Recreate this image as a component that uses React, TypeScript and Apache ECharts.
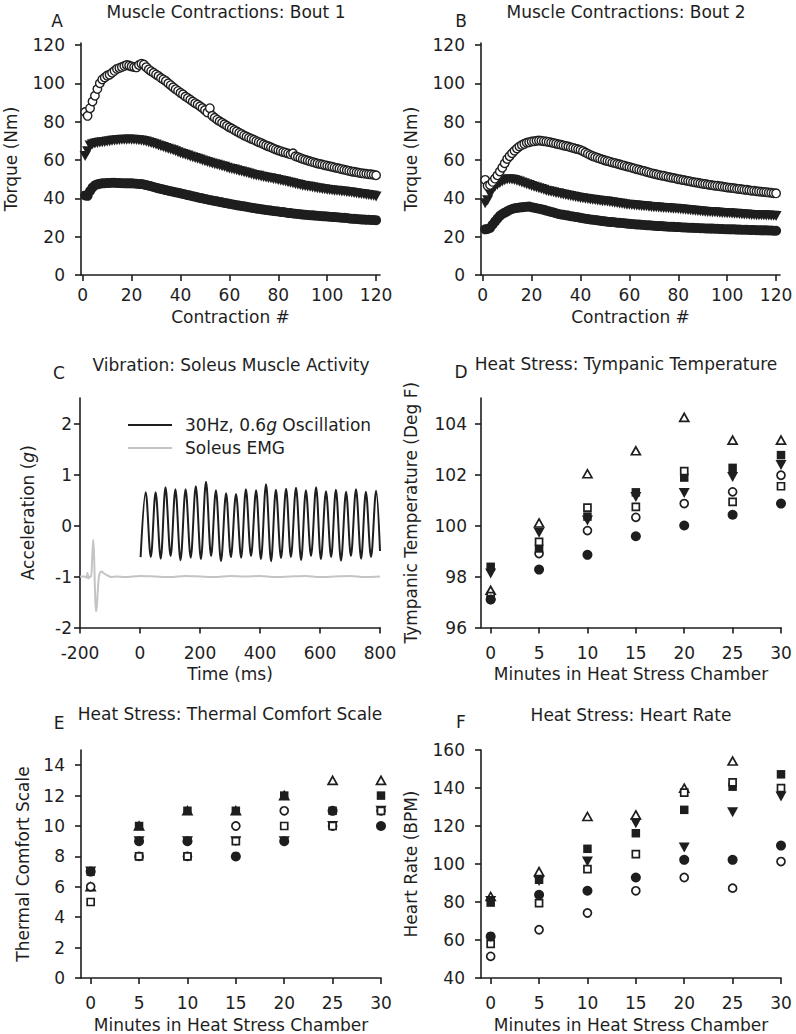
import React, { useEffect, useRef } from "react";
import * as echarts from "echarts";

const FONT = "DejaVu Sans";
const INK = "#1e1e1e";
const FS = 17;

// ---------- Panel A / B : contraction number ----------
const contractions = Array.from({ length: 120 }, (_, i) => i + 1);

const bout1Open = [
  85, 83, 87, 90.5, 93.5, 97, 100, 102, 103, 104,
  104.5, 105.5, 106.5, 107.5, 108, 108.5, 109, 109.5, 109.2, 108.8,
  108.5, 108.3, 109.5, 110.2, 109.8, 108.4, 107.2, 106.3, 105.5, 104.6,
  103.8, 102.7, 102, 101.2, 100, 99, 97.9, 96.9, 96, 95,
  94.2, 93.1, 92.3, 91.4, 90.5, 89.6, 88.9, 88, 87.1, 86,
  84.8, 87, 83, 82, 81, 80.2, 79.4, 78.6, 77.8, 77,
  76.4, 75.6, 74.9, 74.2, 73.5, 72.8, 72.2, 71.6, 71, 70.5,
  69.9, 69.3, 68.8, 68.2, 67.6, 67.1, 66.6, 66, 65.5, 65,
  64.6, 64.1, 63.8, 63.4, 63, 63.5, 61.9, 61.5, 61, 60.5,
  60.1, 59.7, 59.3, 58.9, 58.5, 58.2, 57.9, 57.6, 57.3, 57,
  56.7, 56.4, 56.1, 55.8, 55.5, 55.2, 54.9, 54.6, 54.3, 54,
  53.8, 53.6, 53.3, 53.1, 52.9, 52.8, 52.6, 52.5, 52.3, 52,
];

const bout1Tri = [
  62, 64.5, 67.5, 68.2, 68.6, 68.9, 69.1, 69.3, 69.4, 69.6,
  69.8, 70, 70.1, 70.3, 70.4, 70.5, 70.6, 70.6, 70.7, 70.6,
  70.5, 70.4, 70.3, 70.1, 69.9, 69.6, 69.3, 68.9, 68.5, 68,
  67.6, 67.2, 66.8, 66.3, 65.9, 65.4, 65, 64.5, 64, 63.5,
  63.1, 62.7, 62.3, 61.8, 61.4, 61, 60.6, 60.2, 59.7, 59.3,
  58.9, 58.5, 58.2, 57.8, 57.5, 57.1, 56.7, 56.4, 56, 55.6,
  55.3, 55, 54.6, 54.3, 54, 53.6, 53.3, 53, 52.6, 52.2,
  51.9, 51.7, 51.4, 51.1, 50.9, 50.6, 50.4, 50.1, 49.9, 49.6,
  49.3, 49, 48.7, 48.4, 48.1, 47.8, 47.5, 47.2, 46.9, 46.6,
  46.4, 46.2, 46, 45.8, 45.5, 45.3, 45.1, 44.9, 44.7, 44.5,
  44.3, 44.2, 44, 43.9, 43.8, 43.6, 43.5, 43.3, 43.2, 43,
  42.8, 42.6, 42.4, 42.3, 42.1, 41.9, 41.7, 41.5, 41.3, 41,
];

const bout1Dot = [
  41.5, 41.3, 43.8, 45.6, 46.8, 47.3, 47.6, 47.8, 47.9, 48,
  48, 48.1, 48.1, 48, 48, 47.9, 47.9, 47.8, 47.8, 47.8,
  47.7, 47.6, 47.5, 47.4, 47.2, 46.9, 46.6, 46.3, 45.9, 45.5,
  45.2, 44.9, 44.6, 44.3, 44, 43.7, 43.4, 43.1, 42.9, 42.6,
  42.3, 42, 41.7, 41.4, 41.1, 40.8, 40.5, 40.2, 40, 39.7,
  39.4, 39.1, 38.9, 38.6, 38.4, 38.1, 37.9, 37.6, 37.4, 37.1,
  36.9, 36.7, 36.4, 36.2, 36, 35.8, 35.6, 35.4, 35.1, 34.9,
  34.7, 34.5, 34.3, 34.1, 33.9, 33.8, 33.6, 33.4, 33.3, 33.1,
  32.9, 32.8, 32.6, 32.4, 32.3, 32.1, 32, 31.8, 31.7, 31.5,
  31.4, 31.3, 31.2, 31.1, 31, 30.9, 30.8, 30.7, 30.6, 30.5,
  30.4, 30.3, 30.2, 30.1, 30, 29.9, 29.8, 29.7, 29.5, 29.4,
  29.3, 29.2, 29.1, 29, 28.9, 28.8, 28.8, 28.7, 28.7, 28.6,
];

const bout2Open = [
  49.6, 46.5, 47, 48.6, 50.3, 52, 54, 56, 58.3, 60.5,
  62, 63.5, 64.8, 66, 67, 67.8, 68.4, 69, 69.3, 69.6,
  69.8, 70, 70.1, 70, 69.8, 69.6, 69.4, 69.1, 68.8, 68.5,
  68.2, 67.9, 67.6, 67.3, 67, 66.6, 66.3, 65.9, 65.6, 65.2,
  64.6, 63.9, 63.2, 62.6, 62, 61.5, 61.1, 60.6, 60.2, 59.8,
  59.4, 59.1, 58.7, 58.4, 58, 57.7, 57.3, 57, 56.6, 56.3,
  55.9, 55.6, 55.2, 54.9, 54.5, 54.2, 53.8, 53.5, 53.1, 52.8,
  52.5, 52.2, 51.9, 51.7, 51.4, 51.1, 50.8, 50.6, 50.3, 50,
  49.8, 49.5, 49.3, 49, 48.8, 48.5, 48.3, 48.1, 47.8, 47.6,
  47.4, 47.2, 47, 46.8, 46.6, 46.5, 46.3, 46.1, 45.9, 45.7,
  45.5, 45.4, 45.2, 45, 44.9, 44.7, 44.5, 44.4, 44.2, 44,
  43.9, 43.7, 43.6, 43.4, 43.3, 43.2, 43, 42.9, 42.7, 42.6,
];

const bout2Tri = [
  37.4, 39, 42.3, 44.3, 46, 47.1, 48, 48.8, 49.4, 49.8,
  49.9, 49.8, 49.6, 49.2, 48.7, 48.2, 47.8, 47.3, 46.9, 46.4,
  46, 45.6, 45.2, 44.8, 44.4, 44, 43.7, 43.4, 43.1, 42.8,
  42.6, 42.3, 42, 41.7, 41.5, 41.2, 40.9, 40.7, 40.4, 40.2,
  40, 39.8, 39.6, 39.4, 39.2, 39.1, 38.9, 38.7, 38.5, 38.4,
  38.3, 38.1, 37.9, 37.7, 37.5, 37.3, 37.1, 36.9, 36.7, 36.6,
  36.5, 36.4, 36.3, 36.1, 36, 35.9, 35.8, 35.6, 35.5, 35.4,
  35.3, 35.2, 35.1, 35, 34.9, 34.8, 34.7, 34.6, 34.5, 34.4,
  34.3, 34.2, 34, 33.9, 33.8, 33.6, 33.5, 33.4, 33.2, 33.1,
  33, 32.9, 32.8, 32.7, 32.7, 32.6, 32.5, 32.4, 32.3, 32.2,
  32.2, 32.1, 32, 31.9, 31.8, 31.7, 31.6, 31.5, 31.4, 31.3,
  31.3, 31.2, 31.2, 31.1, 31.1, 31, 31, 30.9, 30.9, 30.8,
];

const bout2Dot = [
  23.8, 24, 24.5, 26.2, 27.8, 29.4, 30.8, 31.8, 32.5, 33.2,
  33.9, 34.4, 34.8, 35, 35.2, 35.3, 35.5, 35.6, 35.7, 35.4,
  35.1, 34.8, 34.6, 34.3, 34, 33.6, 33.3, 32.9, 32.6, 32.2,
  31.8, 31.6, 31.4, 31.2, 31, 30.7, 30.5, 30.3, 30.1, 29.8,
  29.6, 29.4, 29.2, 29, 28.8, 28.7, 28.5, 28.3, 28.1, 28,
  27.8, 27.7, 27.6, 27.5, 27.3, 27.2, 27.1, 27, 26.8, 26.7,
  26.6, 26.5, 26.4, 26.3, 26.2, 26.1, 26, 25.9, 25.8, 25.7,
  25.6, 25.5, 25.5, 25.4, 25.3, 25.2, 25.2, 25.1, 25, 25,
  24.9, 24.8, 24.8, 24.7, 24.7, 24.6, 24.5, 24.5, 24.4, 24.4,
  24.3, 24.3, 24.2, 24.2, 24.1, 24.1, 24, 24, 23.9, 23.9,
  23.8, 23.8, 23.8, 23.7, 23.7, 23.6, 23.6, 23.6, 23.5, 23.5,
  23.5, 23.4, 23.4, 23.3, 23.3, 23.3, 23.2, 23.2, 23.1, 23.1,
];

// ---------- Panel C : vibration ----------
const OSC_NAME = "30Hz, 0.6g Oscillation";
const EMG_NAME = "Soleus EMG";

const oscTime = [
  2, 19, 36, 52, 69, 85, 102, 118, 135, 152, 169, 186, 203, 220, 237, 253, 270,
  287, 303, 320, 337, 353, 370, 387, 403, 420, 437, 453, 470, 487, 503, 520, 537,
  553, 570, 587, 603, 620, 637, 653, 670, 687, 703, 720, 737, 753, 770, 787, 800,
];
const oscValue = [
  -0.62, 0.65, -0.62, 0.65, -0.65, 0.75, -0.6, 0.71, -0.68, 0.71, -0.63, 0.77,
  -0.66, 0.86, -0.6, 0.69, -0.7, 0.63, -0.62, 0.62, -0.63, 0.71, -0.6, 0.69,
  -0.66, 0.81, -0.7, 0.7, -0.64, 0.72, -0.62, 0.74, -0.68, 0.69, -0.6, 0.75,
  -0.66, 0.67, -0.62, 0.7, -0.69, 0.66, -0.6, 0.71, -0.65, 0.66, -0.62, 0.68, -0.5,
];

const emgTime = [
  -200, -185, -178, -175, -172, -168, -163, -160, -156, -153, -150, -147, -144,
  -141, -137, -133, -128, -122, -115, -105, -95, -80, -50, 0, 50, 100, 150, 200,
  250, 300, 350, 400, 450, 500, 550, 600, 650, 700, 750, 800,
];
const emgValue = [
  -1, -1, -1.02, -0.93, -1.04, -1, -1.01, -0.7, -0.28, -0.6, -1.3, -1.68, -1.6,
  -1.3, -1.0, -0.92, -0.9, -0.93, -0.96, -0.99, -1.01, -1.0, -1.01, -0.99, -1.0,
  -1.01, -0.99, -1.0, -1.01, -0.99, -1.0, -0.99, -1.01, -1.0, -0.99, -1.01, -1.0,
  -0.99, -1.01, -1.0,
];

// ---------- Panels D / E / F : heat stress, six subjects ----------
const minutes = [0, 5, 10, 15, 20, 25, 30];

const tempDot = [97.1, 98.27, 98.85, 99.58, 100.0, 100.42, 100.86];
const tempCircle = [97.1, 98.9, 99.8, 100.32, 100.86, 101.32, 101.97];
const tempDown = [98.12, 99.72, 100.2, 101.12, 101.27, 101.9, 102.37];
const tempUp = [97.46, 100.1, 102.03, 102.93, 104.24, 103.35, 103.35];
const tempSquare = [98.38, 99.1, 100.35, 101.3, 101.88, 102.26, 102.76];
const tempBox = [97.23, 99.36, 100.7, 100.73, 102.13, 100.93, 101.54];

const comfortDot = [7, 9, 9, 8, 9, 11, 10];
const comfortCircle = [6, 8, 8, 10, 11, 10, 11];
const comfortDown = [7, 9, 9, 9, 9, 10, 11];
const comfortUp = [6, 10, 11, 11, 12, 13, 13];
const comfortSquare = [7, 10, 11, 11, 12, 11, 12];
const comfortBox = [5, 8, 8, 9, 10, 10, 11];

const hrDot = [61.9, 83.8, 85.9, 92.9, 102.2, 102.2, 109.7];
const hrCircle = [51.4, 65.4, 74.2, 85.9, 92.9, 87.3, 101.3];
const hrDown = [80.5, 91, 101.3, 121.5, 108.7, 127.3, 135.5];
const hrUp = [82.9, 96, 125, 125.8, 139.9, 154.2, null];
const hrSquare = [79.7, 91.7, 108, 116.2, 128.5, 140.7, 147.2];
const hrBox = [58, 79.4, 97.3, 105.2, 137.6, 143, 139.9];

// tick values
const torqueTicks = [0, 20, 40, 60, 80, 100, 120];
const contractionTicks = [0, 20, 40, 60, 80, 100, 120];
const accelTicks = [-2, -1, 0, 1, 2];
const timeTicks = [-200, 0, 200, 400, 600, 800];
const minuteTicks = [0, 5, 10, 15, 20, 25, 30];
const tempTicks = [96, 98, 100, 102, 104];
const comfortTicks = [0, 2, 4, 6, 8, 10, 12, 14];
const hrTicks = [40, 60, 80, 100, 120, 140, 160];

// ---------- helpers ----------
const filled = { color: INK, opacity: 1 };
const hollow = { color: "#fff", borderColor: INK, borderWidth: 1.7, opacity: 1 };

const markers: Record<string, any> = {
  dot: { symbol: "circle", symbolSize: 10, itemStyle: filled },
  circle: { symbol: "circle", symbolSize: 8, itemStyle: hollow },
  down: { symbol: "triangle", symbolRotate: 180, symbolSize: [11, 10], itemStyle: filled },
  up: { symbol: "triangle", symbolSize: [9, 8], itemStyle: hollow },
  square: { symbol: "rect", symbolSize: 8.5, itemStyle: filled },
  box: { symbol: "rect", symbolSize: 7, itemStyle: hollow },
};

function scatter(idx: number, xs: number[], ys: (number | null)[], kind: string, extra: any = {}) {
  const data = xs.map((x, i) => [x, ys[i]]).filter((p) => p[1] !== null);
  return {
    type: "scatter",
    xAxisIndex: idx,
    yAxisIndex: idx,
    data,
    silent: true,
    ...markers[kind],
    ...extra,
  };
}

function axis(
  idx: number,
  min: number,
  max: number,
  ticks: number[],
  margin: number,
  name: string,
  nameGap: number,
  vertical: boolean,
  rich?: any
) {
  return {
    type: "value",
    gridIndex: idx,
    min,
    max,
    name,
    nameLocation: "middle",
    nameGap,
    nameRotate: vertical ? 90 : 0,
    nameTextStyle: { fontSize: FS, fontFamily: FONT, color: INK, rich },
    axisLine: { show: true, onZero: false, lineStyle: { color: INK, width: 1.6 } },
    axisTick: { show: true, length: 6, customValues: ticks, lineStyle: { color: INK, width: 1.6 } },
    axisLabel: { fontSize: FS, fontFamily: FONT, color: INK, margin, customValues: ticks },
    splitLine: { show: false },
  };
}

function label(text: string, x: number, y: number) {
  return {
    type: "text",
    x,
    y,
    silent: true,
    style: { text, fontSize: FS, fontFamily: FONT, fill: INK, align: "center", verticalAlign: "middle" },
  };
}

const italic = { i: { fontStyle: "italic", fontSize: FS, fontFamily: FONT, color: INK } };

export default function App() {
  const ref = useRef<HTMLDivElement>(null);

  useEffect(() => {
    if (!ref.current) return;
    const chart = echarts.init(ref.current, undefined, { renderer: "svg" });

    const option: any = {
      animation: false,
      backgroundColor: "#fff",
      textStyle: { fontFamily: FONT },
      grid: [
        { left: 81, top: 43, width: 299, height: 232 },
        { left: 481, top: 43, width: 299, height: 232 },
        { left: 80, top: 398, width: 300, height: 229.5 },
        { left: 481, top: 398, width: 300, height: 229.5 },
        { left: 81, top: 750, width: 300, height: 229.5 },
        { left: 481, top: 750, width: 300, height: 228.5 },
      ],
      xAxis: [
        axis(0, -0.7, 121.6, contractionTicks, 11, "Contraction #", 33, false),
        axis(1, -0.7, 121.6, contractionTicks, 11, "Contraction #", 33, false),
        axis(2, -200, 800, timeTicks, 17, "Time (ms)", 38, false),
        axis(3, -1, 30, minuteTicks, 17, "Minutes in Heat Stress Chamber", 38, false),
        axis(4, -1, 30, minuteTicks, 16, "Minutes in Heat Stress Chamber", 38, false),
        axis(5, -1, 30, minuteTicks, 16, "Minutes in Heat Stress Chamber", 38, false),
      ],
      yAxis: [
        axis(0, 0, 121, torqueTicks, 16, "Torque (Nm)", 62, true),
        axis(1, 0, 121, torqueTicks, 16, "Torque (Nm)", 62, true),
        axis(2, -2, 2.5, accelTicks, 8, "Acceleration ({i|g})", 44, true, italic),
        axis(3, 96, 105, tempTicks, 14, "Tympanic Temperature (Deg F)", 62, true),
        axis(4, 0, 15, comfortTicks, 16, "Thermal Comfort Scale", 50, true),
        axis(5, 40, 160, hrTicks, 16, "Heart Rate (BPM)", 62, true),
      ],
      legend: {
        show: true,
        orient: "vertical",
        left: 123,
        top: 410,
        icon: "rect",
        itemWidth: 44,
        itemHeight: 2,
        itemGap: 3,
        selectedMode: false,
        data: [OSC_NAME, EMG_NAME],
        formatter: (n: string) => (n === OSC_NAME ? "30Hz, 0.6{i|g} Oscillation" : n),
        textStyle: {
          fontSize: FS,
          fontFamily: FONT,
          color: INK,
          lineHeight: 20,
          padding: [0, 0, 0, 8],
          rich: italic,
        },
      },
      graphic: [
        label("Muscle Contractions: Bout 1", 226, 12),
        label("A", 57, 21),
        label("Muscle Contractions: Bout 2", 626, 12),
        label("B", 461, 21),
        label("Vibration: Soleus Muscle Activity", 231, 365),
        label("C", 59, 373),
        label("Heat Stress: Tympanic Temperature", 626, 364),
        label("D", 461, 372),
        label("Heat Stress: Thermal Comfort Scale", 230, 714),
        label("E", 59, 723),
        label("Heat Stress: Heart Rate", 631, 715),
        label("F", 461, 722),
      ],
      series: [
        // A
        scatter(0, contractions, bout1Dot, "dot"),
        scatter(0, contractions, bout1Tri, "down"),
        scatter(0, contractions, bout1Open, "circle", { symbolSize: 8.5, itemStyle: { ...hollow, borderWidth: 1.4 } }),
        // B
        scatter(1, contractions, bout2Dot, "dot"),
        scatter(1, contractions, bout2Tri, "down"),
        scatter(1, contractions, bout2Open, "circle", { symbolSize: 8.5, itemStyle: { ...hollow, borderWidth: 1.4 } }),
        // C
        {
          type: "line",
          name: EMG_NAME,
          xAxisIndex: 2,
          yAxisIndex: 2,
          data: emgTime.map((t, i) => [t, emgValue[i]]),
          symbol: "none",
          smooth: 0.3,
          silent: true,
          lineStyle: { color: "#c4c4c4", width: 2 },
          itemStyle: { color: "#c4c4c4" },
        },
        {
          type: "line",
          name: OSC_NAME,
          xAxisIndex: 2,
          yAxisIndex: 2,
          data: oscTime.map((t, i) => [t, oscValue[i]]),
          symbol: "none",
          smooth: 0.35,
          silent: true,
          lineStyle: { color: INK, width: 2 },
          itemStyle: { color: INK },
        },
        // D
        scatter(3, minutes, tempUp, "up"),
        scatter(3, minutes, tempDown, "down"),
        scatter(3, minutes, tempCircle, "circle"),
        scatter(3, minutes, tempSquare, "square"),
        scatter(3, minutes, tempBox, "box"),
        scatter(3, minutes, tempDot, "dot"),
        // E
        scatter(4, minutes, comfortUp, "up"),
        scatter(4, minutes, comfortDown, "down"),
        scatter(4, minutes, comfortCircle, "circle"),
        scatter(4, minutes, comfortBox, "box"),
        scatter(4, minutes, comfortDot, "dot"),
        scatter(4, minutes, comfortSquare, "square"),
        // F
        scatter(5, minutes, hrUp, "up"),
        scatter(5, minutes, hrDown, "down"),
        scatter(5, minutes, hrSquare, "square"),
        scatter(5, minutes, hrBox, "box"),
        scatter(5, minutes, hrCircle, "circle"),
        scatter(5, minutes, hrDot, "dot"),
      ],
    };

    chart.setOption(option);
    return () => chart.dispose();
  }, []);

  return (
    <div
      ref={ref}
      style={{ position: "fixed", left: 0, top: 0, width: 796, height: 1034, background: "#fff" }}
    />
  );
}
